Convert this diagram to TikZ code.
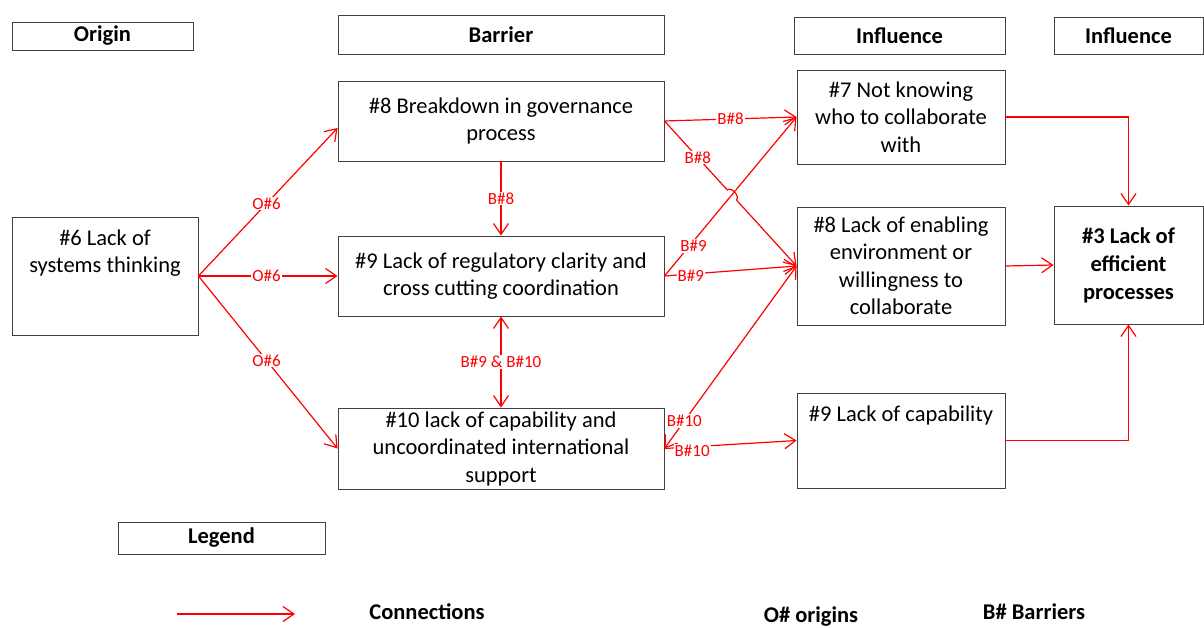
\documentclass[tikz,border=0pt]{standalone}
\usepackage{fontspec}
\setmainfont{Carlito}
\usetikzlibrary{arrows.meta,calc}
\begin{document}
\begin{tikzpicture}[x=1pt,y=-1pt,
  box/.style={draw=black!75, line width=0.9pt, inner sep=0pt, align=center,
    font=\fontsize{22.5}{27.5}\selectfont},
  head/.style={box, font=\fontsize{22.5}{26}\selectfont\bfseries},
  txt/.style={inner sep=0pt, align=center, font=\fontsize{22.5}{27.5}\selectfont},
  conn/.style={draw=red, line width=1.2pt, -{Straight Barb[length=11pt,width=15pt]}},
  both/.style={conn, {Straight Barb[length=11pt,width=15pt]}-{Straight Barb[length=11pt,width=15pt]}},
  lab/.style={fill=white, text=red, inner sep=1pt, font=\fontsize{17}{18}\selectfont},
  leg/.style={inner sep=0pt, font=\fontsize{22.5}{26}\selectfont\bfseries},
]
\useasboundingbox (0,0) rectangle (1204,628);

% column headers
\node[head, minimum width=181pt, minimum height=28pt] (hO) at (102.5,36) {Origin};
\node[head, minimum width=326pt, minimum height=39pt] (hB) at (501,34.5) {Barrier};
\node[head, minimum width=211pt, minimum height=37pt] (hI1) at (899.5,35.5) {Influence};
\node[head, minimum width=149pt, minimum height=37pt] (hI2) at (1128.5,35.5) {Influence};

% origin
\node[box, minimum width=186pt, minimum height=118pt] (n6) at (105,276) {};
\node[txt] (n6t) at (105,253) {\#6 Lack of\\systems thinking};

% barriers
\node[box, minimum width=326pt, minimum height=80pt] (b8) at (501,121)
  {\#8 Breakdown in governance\\process};
\node[box, minimum width=326pt, minimum height=80pt] (b9) at (501,276)
  {\#9 Lack of regulatory clarity and\\cross cutting coordination};
\node[box, minimum width=326pt, minimum height=81pt] (b10) at (501,448.5)
  {\#10 lack of capability and\\uncoordinated international\\support};

% influences
\node[box, minimum width=208pt, minimum height=94pt] (i7) at (901,117)
  {\#7 Not knowing\\who to collaborate\\with};
\node[box, minimum width=208pt, minimum height=118pt] (i8) at (901,266)
  {\#8 Lack of enabling\\environment or\\willingness to\\collaborate};
\node[box, minimum width=208pt, minimum height=95pt] (i9) at (901,440.5) {};
\node[txt] (i9t) at (901,415) {\#9 Lack of capability};

\node[box, minimum width=149pt, minimum height=118pt, font=\fontsize{22.5}{28}\selectfont\bfseries] (r3) at (1128.5,265)
  {\#3 Lack of\\efficient\\processes};

% origin connections
\draw[conn] (n6.east) -- node[lab, pos=0.49] {O\#6} ($(b8.west)+(0,7)$);
\draw[conn] (n6.east) -- node[lab, pos=0.49] {O\#6} (b9.west);
\draw[conn] (n6.east) -- node[lab, pos=0.49] {O\#6} (b10.west);

% barrier connections
\draw[conn] (b8.south) -- node[lab] {B\#8} (b9.north);
\draw[both] (b9.south) -- node[lab] {B\#9 \& B\#10} (b10.north);

\draw[conn] (b8.east) -- node[lab, pos=0.5] {B\#8} (i7.west);
\draw[conn] (b9.east) -- node[lab, pos=0.22, yshift=-5pt] {B\#9} (i7.west);
\draw[conn] (b8.east) -- node[lab, pos=0.53] {B\#8} ($(b8.east)!0.475!(i8.west)$)
  to[bend left=90] ($(b8.east)!0.545!(i8.west)$) -- (i8.west);
\draw[conn] (b9.east) -- node[lab, pos=0.2, yshift=-2pt] {B\#9} (i8.west);
\draw[both] (b10.east) -- node[lab, pos=0.15] {B\#10} (i8.west);
\draw[conn] (b10.east) -- node[lab, pos=0.21, yshift=-4pt] {B\#10} (i9.west);

% influence connections
\draw[conn] (i7.east) -| (r3.north);
\draw[conn] (i8.east) -- (r3.west);
\draw[conn] (i9.east) -| (r3.south);

% legend
\node[head, minimum width=207pt, minimum height=32pt] (lg) at (221.5,538) {Legend};
\coordinate (la) at (177,614);
\coordinate (lb) at (295,614);
\draw[conn] (la) -- (lb);
\node[leg] (lc) at (427,612) {Connections};
\node[leg] (lo) at (811,617) {O\# origins};
\node[leg] (lbb) at (1034,612) {B\# Barriers};
\end{tikzpicture}
\end{document}
